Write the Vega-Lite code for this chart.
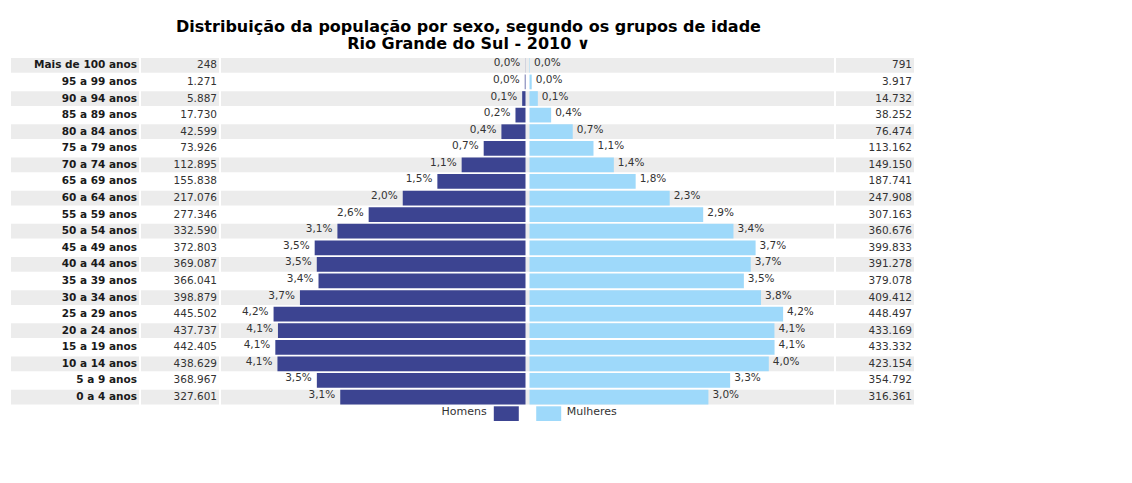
{
  "$schema": "https://vega.github.io/schema/vega-lite/v6.json",
  "padding": {"left": 11, "top": 19, "right": 0, "bottom": 0},
  "background": "white",
  "title": {
    "text": ["Distribuição da população por sexo, segundo os grupos de idade", "Rio Grande do Sul - 2010 ∨"],
    "anchor": "middle",
    "font": "DejaVu Sans",
    "fontSize": 16,
    "fontWeight": "bold",
    "lineHeight": 17,
    "offset": 6,
    "color": "#000000",
    "dx": 6
  },
  "datasets": {
    "pop": [
      {"age": "Mais de 100 anos", "men": 248, "women": 791, "pm": 0.000, "pw": 0.000},
      {"age": "95 a 99 anos", "men": 1271, "women": 3917, "pm": 0.000, "pw": 0.000},
      {"age": "90 a 94 anos", "men": 5887, "women": 14732, "pm": 0.001, "pw": 0.001},
      {"age": "85 a 89 anos", "men": 17730, "women": 38252, "pm": 0.002, "pw": 0.004},
      {"age": "80 a 84 anos", "men": 42599, "women": 76474, "pm": 0.004, "pw": 0.007},
      {"age": "75 a 79 anos", "men": 73926, "women": 113162, "pm": 0.007, "pw": 0.011},
      {"age": "70 a 74 anos", "men": 112895, "women": 149150, "pm": 0.011, "pw": 0.014},
      {"age": "65 a 69 anos", "men": 155838, "women": 187741, "pm": 0.015, "pw": 0.018},
      {"age": "60 a 64 anos", "men": 217076, "women": 247908, "pm": 0.020, "pw": 0.023},
      {"age": "55 a 59 anos", "men": 277346, "women": 307163, "pm": 0.026, "pw": 0.029},
      {"age": "50 a 54 anos", "men": 332590, "women": 360676, "pm": 0.031, "pw": 0.034},
      {"age": "45 a 49 anos", "men": 372803, "women": 399833, "pm": 0.035, "pw": 0.037},
      {"age": "40 a 44 anos", "men": 369087, "women": 391278, "pm": 0.035, "pw": 0.037},
      {"age": "35 a 39 anos", "men": 366041, "women": 379078, "pm": 0.034, "pw": 0.035},
      {"age": "30 a 34 anos", "men": 398879, "women": 409412, "pm": 0.037, "pw": 0.038},
      {"age": "25 a 29 anos", "men": 445502, "women": 448497, "pm": 0.042, "pw": 0.042},
      {"age": "20 a 24 anos", "men": 437737, "women": 433169, "pm": 0.041, "pw": 0.041},
      {"age": "15 a 19 anos", "men": 442405, "women": 433332, "pm": 0.041, "pw": 0.041},
      {"age": "10 a 14 anos", "men": 438629, "women": 423154, "pm": 0.041, "pw": 0.040},
      {"age": "5 a 9 anos", "men": 368967, "women": 354792, "pm": 0.035, "pw": 0.033},
      {"age": "0 a 4 anos", "men": 327601, "women": 316361, "pm": 0.031, "pw": 0.030}
    ]
  },
  "config": {
    "view": {"stroke": null},
    "locale": {"number": {"decimal": ",", "thousands": ".", "grouping": [3], "currency": ["R$", ""]}},
    "text": {"font": "DejaVu Sans"}
  },
  "spacing": 2,
  "hconcat": [
    {
      "width": 128,
      "height": 363,
      "data": {"name": "pop"},
      "layer": [
        {
          "transform": [{"window": [{"op": "row_number", "as": "rn"}]}, {"filter": "datum.rn % 2 == 1"}],
          "mark": {"type": "rect", "color": "#ececec"},
          "encoding": {
            "y": {"field": "age", "type": "nominal", "sort": null, "axis": null, "scale": {"domain": ["Mais de 100 anos", "95 a 99 anos", "90 a 94 anos", "85 a 89 anos", "80 a 84 anos", "75 a 79 anos", "70 a 74 anos", "65 a 69 anos", "60 a 64 anos", "55 a 59 anos", "50 a 54 anos", "45 a 49 anos", "40 a 44 anos", "35 a 39 anos", "30 a 34 anos", "25 a 29 anos", "20 a 24 anos", "15 a 19 anos", "10 a 14 anos", "5 a 9 anos", "0 a 4 anos", "legenda"], "paddingInner": 0.113, "paddingOuter": 0}}
          }
        },
        {
          "mark": {"type": "text", "align": "right", "baseline": "middle", "dx": -2, "fontWeight": "bold", "fontSize": 10.5, "color": "#1a1a1a"},
          "encoding": {
            "y": {"field": "age", "type": "nominal", "sort": null, "axis": null, "scale": {"domain": ["Mais de 100 anos", "95 a 99 anos", "90 a 94 anos", "85 a 89 anos", "80 a 84 anos", "75 a 79 anos", "70 a 74 anos", "65 a 69 anos", "60 a 64 anos", "55 a 59 anos", "50 a 54 anos", "45 a 49 anos", "40 a 44 anos", "35 a 39 anos", "30 a 34 anos", "25 a 29 anos", "20 a 24 anos", "15 a 19 anos", "10 a 14 anos", "5 a 9 anos", "0 a 4 anos", "legenda"], "paddingInner": 0.113, "paddingOuter": 0}},
            "x": {"value": "width"},
            "text": {"field": "age"}
          }
        }
      ]
    },
    {
      "width": 78,
      "height": 363,
      "data": {"name": "pop"},
      "layer": [
        {
          "transform": [{"window": [{"op": "row_number", "as": "rn"}]}, {"filter": "datum.rn % 2 == 1"}],
          "mark": {"type": "rect", "color": "#ececec"},
          "encoding": {
            "y": {"field": "age", "type": "nominal", "sort": null, "axis": null, "scale": {"domain": ["Mais de 100 anos", "95 a 99 anos", "90 a 94 anos", "85 a 89 anos", "80 a 84 anos", "75 a 79 anos", "70 a 74 anos", "65 a 69 anos", "60 a 64 anos", "55 a 59 anos", "50 a 54 anos", "45 a 49 anos", "40 a 44 anos", "35 a 39 anos", "30 a 34 anos", "25 a 29 anos", "20 a 24 anos", "15 a 19 anos", "10 a 14 anos", "5 a 9 anos", "0 a 4 anos", "legenda"], "paddingInner": 0.113, "paddingOuter": 0}}
          }
        },
        {
          "mark": {"type": "text", "align": "right", "baseline": "middle", "dx": -2, "fontSize": 10.5, "color": "#333333"},
          "encoding": {
            "y": {"field": "age", "type": "nominal", "sort": null, "axis": null, "scale": {"domain": ["Mais de 100 anos", "95 a 99 anos", "90 a 94 anos", "85 a 89 anos", "80 a 84 anos", "75 a 79 anos", "70 a 74 anos", "65 a 69 anos", "60 a 64 anos", "55 a 59 anos", "50 a 54 anos", "45 a 49 anos", "40 a 44 anos", "35 a 39 anos", "30 a 34 anos", "25 a 29 anos", "20 a 24 anos", "15 a 19 anos", "10 a 14 anos", "5 a 9 anos", "0 a 4 anos", "legenda"], "paddingInner": 0.113, "paddingOuter": 0}},
            "x": {"value": "width"},
            "text": {"field": "men", "type": "quantitative", "format": ",d"}
          }
        }
      ]
    },
    {
      "width": 613,
      "height": 363,
      "data": {"name": "pop"},
      "resolve": {"scale": {"x": "independent"}},
      "layer": [
        {
          "transform": [{"window": [{"op": "row_number", "as": "rn"}]}, {"filter": "datum.rn % 2 == 1"}],
          "mark": {"type": "rect", "color": "#ececec"},
          "encoding": {
            "y": {"field": "age", "type": "nominal", "sort": null, "axis": null, "scale": {"domain": ["Mais de 100 anos", "95 a 99 anos", "90 a 94 anos", "85 a 89 anos", "80 a 84 anos", "75 a 79 anos", "70 a 74 anos", "65 a 69 anos", "60 a 64 anos", "55 a 59 anos", "50 a 54 anos", "45 a 49 anos", "40 a 44 anos", "35 a 39 anos", "30 a 34 anos", "25 a 29 anos", "20 a 24 anos", "15 a 19 anos", "10 a 14 anos", "5 a 9 anos", "0 a 4 anos", "legenda"], "paddingInner": 0.113, "paddingOuter": 0}}
          }
        },
        {
          "layer": [
            {
              "mark": {"type": "bar", "color": "#3c4491", "xOffset": -2, "x2Offset": -2},
              "encoding": {
                "y": {"field": "age", "type": "nominal", "sort": null, "axis": null, "scale": {"domain": ["Mais de 100 anos", "95 a 99 anos", "90 a 94 anos", "85 a 89 anos", "80 a 84 anos", "75 a 79 anos", "70 a 74 anos", "65 a 69 anos", "60 a 64 anos", "55 a 59 anos", "50 a 54 anos", "45 a 49 anos", "40 a 44 anos", "35 a 39 anos", "30 a 34 anos", "25 a 29 anos", "20 a 24 anos", "15 a 19 anos", "10 a 14 anos", "5 a 9 anos", "0 a 4 anos", "legenda"], "paddingInner": 0.113, "paddingOuter": 0}},
                "x": {"field": "men", "type": "quantitative", "axis": null, "scale": {"domain": [-542000, 542000], "reverse": true, "nice": false, "zero": false}},
                "x2": {"datum": 0}
              }
            },
            {
              "mark": {"type": "text", "align": "right", "baseline": "middle", "dx": -7, "dy": -2, "fontSize": 10.5, "color": "#333333"},
              "encoding": {
                "y": {"field": "age", "type": "nominal", "sort": null, "axis": null, "scale": {"domain": ["Mais de 100 anos", "95 a 99 anos", "90 a 94 anos", "85 a 89 anos", "80 a 84 anos", "75 a 79 anos", "70 a 74 anos", "65 a 69 anos", "60 a 64 anos", "55 a 59 anos", "50 a 54 anos", "45 a 49 anos", "40 a 44 anos", "35 a 39 anos", "30 a 34 anos", "25 a 29 anos", "20 a 24 anos", "15 a 19 anos", "10 a 14 anos", "5 a 9 anos", "0 a 4 anos", "legenda"], "paddingInner": 0.113, "paddingOuter": 0}},
                "x": {"field": "men", "type": "quantitative", "axis": null, "scale": {"domain": [-542000, 542000], "reverse": true, "nice": false, "zero": false}},
                "text": {"field": "pm", "type": "quantitative", "format": ".1%"}
              }
            }
          ]
        },
        {
          "layer": [
            {
              "mark": {"type": "bar", "color": "#9ed9fa", "xOffset": 2, "x2Offset": 2},
              "encoding": {
                "y": {"field": "age", "type": "nominal", "sort": null, "axis": null, "scale": {"domain": ["Mais de 100 anos", "95 a 99 anos", "90 a 94 anos", "85 a 89 anos", "80 a 84 anos", "75 a 79 anos", "70 a 74 anos", "65 a 69 anos", "60 a 64 anos", "55 a 59 anos", "50 a 54 anos", "45 a 49 anos", "40 a 44 anos", "35 a 39 anos", "30 a 34 anos", "25 a 29 anos", "20 a 24 anos", "15 a 19 anos", "10 a 14 anos", "5 a 9 anos", "0 a 4 anos", "legenda"], "paddingInner": 0.113, "paddingOuter": 0}},
                "x": {"field": "women", "type": "quantitative", "axis": null, "scale": {"domain": [-542000, 542000], "nice": false, "zero": false}},
                "x2": {"datum": 0}
              }
            },
            {
              "mark": {"type": "text", "align": "left", "baseline": "middle", "dx": 6, "dy": -2, "fontSize": 10.5, "color": "#333333"},
              "encoding": {
                "y": {"field": "age", "type": "nominal", "sort": null, "axis": null, "scale": {"domain": ["Mais de 100 anos", "95 a 99 anos", "90 a 94 anos", "85 a 89 anos", "80 a 84 anos", "75 a 79 anos", "70 a 74 anos", "65 a 69 anos", "60 a 64 anos", "55 a 59 anos", "50 a 54 anos", "45 a 49 anos", "40 a 44 anos", "35 a 39 anos", "30 a 34 anos", "25 a 29 anos", "20 a 24 anos", "15 a 19 anos", "10 a 14 anos", "5 a 9 anos", "0 a 4 anos", "legenda"], "paddingInner": 0.113, "paddingOuter": 0}},
                "x": {"field": "women", "type": "quantitative", "axis": null, "scale": {"domain": [-542000, 542000], "nice": false, "zero": false}},
                "text": {"field": "pw", "type": "quantitative", "format": ".1%"}
              }
            },
            {
              "data": {"values": [{"sexo": "Homens"}]},
              "mark": {"type": "bar", "color": "#3c4491"},
              "encoding": {
                "y": {"datum": "legenda", "type": "nominal", "axis": null, "scale": {"domain": ["Mais de 100 anos", "95 a 99 anos", "90 a 94 anos", "85 a 89 anos", "80 a 84 anos", "75 a 79 anos", "70 a 74 anos", "65 a 69 anos", "60 a 64 anos", "55 a 59 anos", "50 a 54 anos", "45 a 49 anos", "40 a 44 anos", "35 a 39 anos", "30 a 34 anos", "25 a 29 anos", "20 a 24 anos", "15 a 19 anos", "10 a 14 anos", "5 a 9 anos", "0 a 4 anos", "legenda"], "paddingInner": 0.113, "paddingOuter": 0}},
                "x": {"datum": -59600, "type": "quantitative", "axis": null, "scale": {"domain": [-542000, 542000], "nice": false, "zero": false}},
                "x2": {"datum": -15400}
              }
            },
            {
              "data": {"values": [{"sexo": "Homens"}]},
              "mark": {"type": "text", "align": "right", "baseline": "middle", "dy": -2, "fontSize": 11, "color": "#333333"},
              "encoding": {
                "y": {"datum": "legenda", "type": "nominal", "axis": null, "scale": {"domain": ["Mais de 100 anos", "95 a 99 anos", "90 a 94 anos", "85 a 89 anos", "80 a 84 anos", "75 a 79 anos", "70 a 74 anos", "65 a 69 anos", "60 a 64 anos", "55 a 59 anos", "50 a 54 anos", "45 a 49 anos", "40 a 44 anos", "35 a 39 anos", "30 a 34 anos", "25 a 29 anos", "20 a 24 anos", "15 a 19 anos", "10 a 14 anos", "5 a 9 anos", "0 a 4 anos", "legenda"], "paddingInner": 0.113, "paddingOuter": 0}},
                "x": {"datum": -72000, "type": "quantitative", "axis": null, "scale": {"domain": [-542000, 542000], "nice": false, "zero": false}},
                "text": {"field": "sexo"}
              }
            },
            {
              "data": {"values": [{"sexo": "Mulheres"}]},
              "mark": {"type": "bar", "color": "#9ed9fa"},
              "encoding": {
                "y": {"datum": "legenda", "type": "nominal", "axis": null, "scale": {"domain": ["Mais de 100 anos", "95 a 99 anos", "90 a 94 anos", "85 a 89 anos", "80 a 84 anos", "75 a 79 anos", "70 a 74 anos", "65 a 69 anos", "60 a 64 anos", "55 a 59 anos", "50 a 54 anos", "45 a 49 anos", "40 a 44 anos", "35 a 39 anos", "30 a 34 anos", "25 a 29 anos", "20 a 24 anos", "15 a 19 anos", "10 a 14 anos", "5 a 9 anos", "0 a 4 anos", "legenda"], "paddingInner": 0.113, "paddingOuter": 0}},
                "x": {"datum": 15400, "type": "quantitative", "axis": null, "scale": {"domain": [-542000, 542000], "nice": false, "zero": false}},
                "x2": {"datum": 59600}
              }
            },
            {
              "data": {"values": [{"sexo": "Mulheres"}]},
              "mark": {"type": "text", "align": "left", "baseline": "middle", "dy": -2, "fontSize": 11, "color": "#333333"},
              "encoding": {
                "y": {"datum": "legenda", "type": "nominal", "axis": null, "scale": {"domain": ["Mais de 100 anos", "95 a 99 anos", "90 a 94 anos", "85 a 89 anos", "80 a 84 anos", "75 a 79 anos", "70 a 74 anos", "65 a 69 anos", "60 a 64 anos", "55 a 59 anos", "50 a 54 anos", "45 a 49 anos", "40 a 44 anos", "35 a 39 anos", "30 a 34 anos", "25 a 29 anos", "20 a 24 anos", "15 a 19 anos", "10 a 14 anos", "5 a 9 anos", "0 a 4 anos", "legenda"], "paddingInner": 0.113, "paddingOuter": 0}},
                "x": {"datum": 69500, "type": "quantitative", "axis": null, "scale": {"domain": [-542000, 542000], "nice": false, "zero": false}},
                "text": {"field": "sexo"}
              }
            }
          ]
        }
      ]
    },
    {
      "width": 78,
      "height": 363,
      "data": {"name": "pop"},
      "layer": [
        {
          "transform": [{"window": [{"op": "row_number", "as": "rn"}]}, {"filter": "datum.rn % 2 == 1"}],
          "mark": {"type": "rect", "color": "#ececec"},
          "encoding": {
            "y": {"field": "age", "type": "nominal", "sort": null, "axis": null, "scale": {"domain": ["Mais de 100 anos", "95 a 99 anos", "90 a 94 anos", "85 a 89 anos", "80 a 84 anos", "75 a 79 anos", "70 a 74 anos", "65 a 69 anos", "60 a 64 anos", "55 a 59 anos", "50 a 54 anos", "45 a 49 anos", "40 a 44 anos", "35 a 39 anos", "30 a 34 anos", "25 a 29 anos", "20 a 24 anos", "15 a 19 anos", "10 a 14 anos", "5 a 9 anos", "0 a 4 anos", "legenda"], "paddingInner": 0.113, "paddingOuter": 0}}
          }
        },
        {
          "mark": {"type": "text", "align": "right", "baseline": "middle", "dx": -2, "fontSize": 10.5, "color": "#333333"},
          "encoding": {
            "y": {"field": "age", "type": "nominal", "sort": null, "axis": null, "scale": {"domain": ["Mais de 100 anos", "95 a 99 anos", "90 a 94 anos", "85 a 89 anos", "80 a 84 anos", "75 a 79 anos", "70 a 74 anos", "65 a 69 anos", "60 a 64 anos", "55 a 59 anos", "50 a 54 anos", "45 a 49 anos", "40 a 44 anos", "35 a 39 anos", "30 a 34 anos", "25 a 29 anos", "20 a 24 anos", "15 a 19 anos", "10 a 14 anos", "5 a 9 anos", "0 a 4 anos", "legenda"], "paddingInner": 0.113, "paddingOuter": 0}},
            "x": {"value": "width"},
            "text": {"field": "women", "type": "quantitative", "format": ",d"}
          }
        }
      ]
    }
  ]
}
